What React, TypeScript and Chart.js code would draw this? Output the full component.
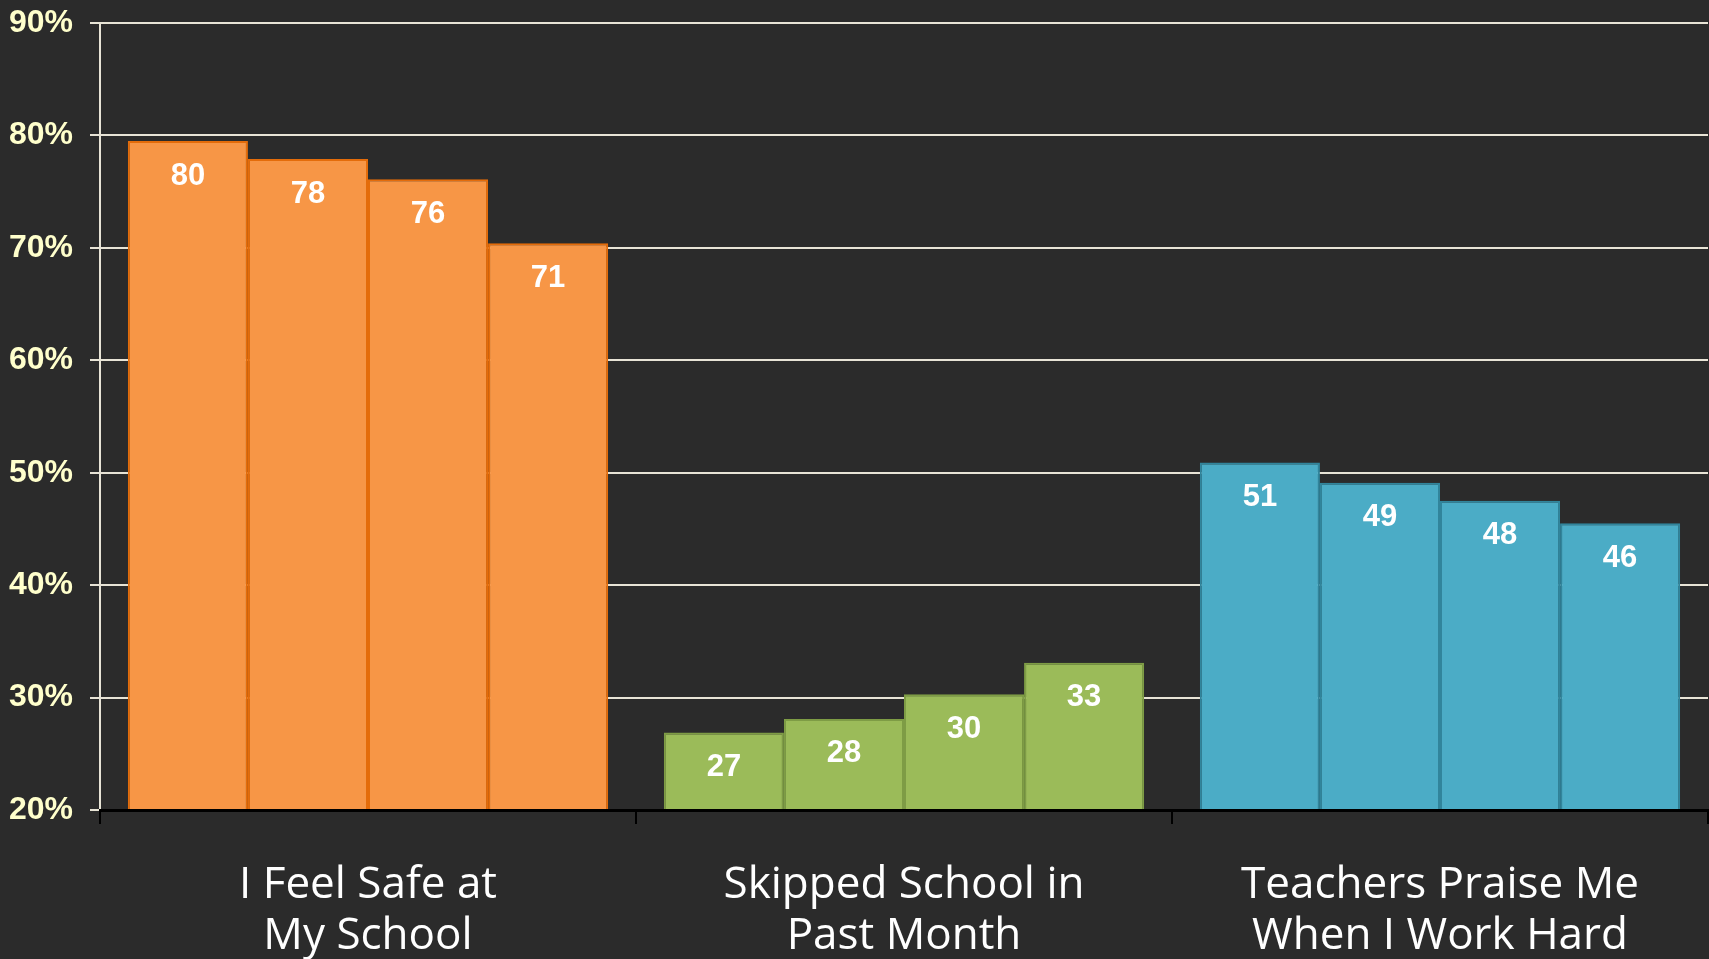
import React, { useEffect, useRef } from "react";
import { Chart, registerables } from "chart.js";

Chart.register(...registerables);

const categories: string[][] = [
  ["I Feel Safe at", "My School"],
  ["Skipped School in", "Past Month"],
  ["Teachers Praise Me", "When I Work Hard"],
];

// values per category (4 bars each)
const feelSafe = [79.5, 77.9, 76.1, 70.4];
const skipped = [26.9, 28.1, 30.3, 33.1];
const praise = [50.9, 49.1, 47.5, 45.5];

const feelSafeLabels = ["80", "78", "76", "71"];
const skippedLabels = ["27", "28", "30", "33"];
const praiseLabels = ["51", "49", "48", "46"];

const yTicks = [20, 30, 40, 50, 60, 70, 80, 90];

const fillColors = ["#F79646", "#9BBB59", "#4BACC6"];
const borderColors = ["#E46C0A", "#7E9C45", "#31859C"];

const BG = "#2B2B2B";
const GRID = "#E8E4D6";
const NARROW = "'Liberation Sans Narrow', 'Liberation Sans', 'DejaVu Sans', sans-serif";

export default function App() {
  const ref = useRef<HTMLCanvasElement | null>(null);

  useEffect(() => {
    document.body.style.margin = "0";
    document.body.style.background = BG;
    const canvas = ref.current!;
    const datasets = [0, 1, 2, 3].map((i) => ({
      label: "Series " + (i + 1),
      data: [feelSafe[i], skipped[i], praise[i]],
      valueLabels: [feelSafeLabels[i], skippedLabels[i], praiseLabels[i]],
      backgroundColor: fillColors,
      borderColor: borderColors,
      borderWidth: 2,
      categoryPercentage: 0.896,
      barPercentage: 1.0,
    }));

    const bgPlugin = {
      id: "bg",
      beforeDraw(chart: any) {
        const ctx = chart.ctx;
        ctx.save();
        ctx.fillStyle = BG;
        ctx.fillRect(0, 0, chart.width, chart.height);
        ctx.restore();
      },
    };

    const labelPlugin = {
      id: "valueLabels",
      afterDatasetsDraw(chart: any) {
        const ctx = chart.ctx;
        ctx.save();
        ctx.fillStyle = "#FFFFFF";
        ctx.font = "condensed bold 31px " + NARROW;
        ctx.textAlign = "center";
        ctx.textBaseline = "middle";
        chart.data.datasets.forEach((ds: any, di: number) => {
          const meta = chart.getDatasetMeta(di);
          meta.data.forEach((bar: any, j: number) => {
            ctx.fillText(ds.valueLabels[j], bar.x, bar.y + 35);
          });
        });
        ctx.restore();
      },
    };

    const chart = new Chart(canvas, {
      type: "bar",
      data: { labels: categories as any, datasets: datasets as any },
      plugins: [bgPlugin, labelPlugin],
      options: {
        animation: false,
        responsive: false,
        maintainAspectRatio: false,
        layout: { padding: { top: 23, right: 1, left: 0, bottom: 0 } },
        plugins: { legend: { display: false }, tooltip: { enabled: false } },
        scales: {
          x: {
            grid: {
              offset: true,
              drawOnChartArea: false,
              drawTicks: true,
              tickLength: 14,
              color: "#000000",
              lineWidth: 2,
            },
            border: { display: true, color: "#000000", width: 3, z: 1 },
            ticks: {
              color: "#FFFFFF",
              padding: 36,
              font: { family: "'Open Sans', Lato, sans-serif", size: 44, lineHeight: 1.16 },
              maxRotation: 0,
              autoSkip: false,
            },
            afterFit(scale: any) {
              scale.height = 149;
              scale.paddingTop = 0;
              scale.paddingBottom = 0;
              scale.paddingLeft = 0;
              scale.paddingRight = 0;
            },
          },
          y: {
            min: yTicks[0],
            max: yTicks[yTicks.length - 1],
            afterBuildTicks(scale: any) {
              scale.ticks = yTicks.map((v) => ({ value: v }));
            },
            grid: {
              color: GRID,
              lineWidth: 2,
              drawTicks: true,
              tickLength: 10,
            },
            border: { display: true, color: GRID, width: 2 },
            ticks: {
              color: "#FFFFCC",
              padding: 17,
              font: {
                family: NARROW,
                size: 32,
                style: "condensed",
                weight: "bold",
              },
              callback: (v: any) => v + "%",
            },
            afterFit(scale: any) {
              scale.width = 100;
              scale.paddingTop = 0;
              scale.paddingBottom = 0;
            },
          },
        },
      } as any,
    });
    return () => chart.destroy();
  }, []);

  return (
    <div style={{ position: "fixed", left: 0, top: 0, width: 1709, height: 959, background: BG }}>
      <canvas ref={ref} width={1709} height={959} style={{ width: 1709, height: 959, display: "block" }} />
    </div>
  );
}
